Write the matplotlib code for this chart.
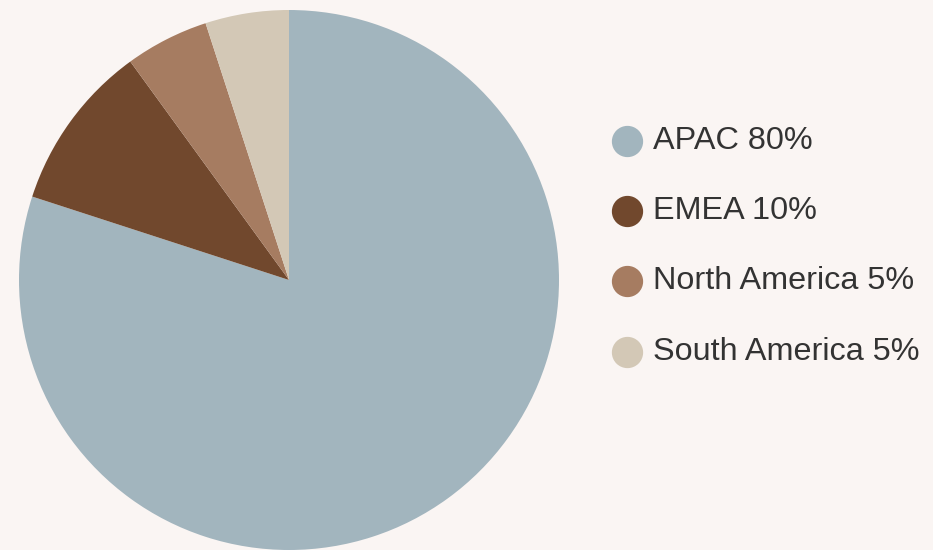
import matplotlib.pyplot as plt
from matplotlib.lines import Line2D

# data
regions = ['APAC', 'EMEA', 'North America', 'South America']
shares = [80, 10, 5, 5]
colors = ['#A2B5BE', '#71482D', '#A67C61', '#D3C8B6']

W, H = 933, 550
bg = '#FAF5F3'

fig = plt.figure(figsize=(W / 100, H / 100), dpi=100, facecolor=bg)
ax = fig.add_axes([19 / W, 0 / H, 540 / W, 540 / H])
ax.set_facecolor(bg)

ax.pie(shares, colors=colors, startangle=90, counterclock=False,
       radius=1, wedgeprops=dict(linewidth=0))
ax.set_xlim(-1, 1)
ax.set_ylim(-1, 1)
ax.set_aspect('equal')
ax.axis('off')

# legend drawn by hand
for i, (reg, val, col) in enumerate(zip(regions, shares, colors)):
    y = 1 - (141 + i * 70.2) / H
    fig.add_artist(Line2D([627 / W], [y], marker='o', markersize=21.5,
                          color=col, linestyle='none',
                          transform=fig.transFigure))
    fig.text(653 / W, y, f'{reg} {val}%', fontsize=23.3, color='#333333',
             family='Liberation Sans', va='center', ha='left')

fig.savefig('out.png', dpi=100, facecolor=bg)
